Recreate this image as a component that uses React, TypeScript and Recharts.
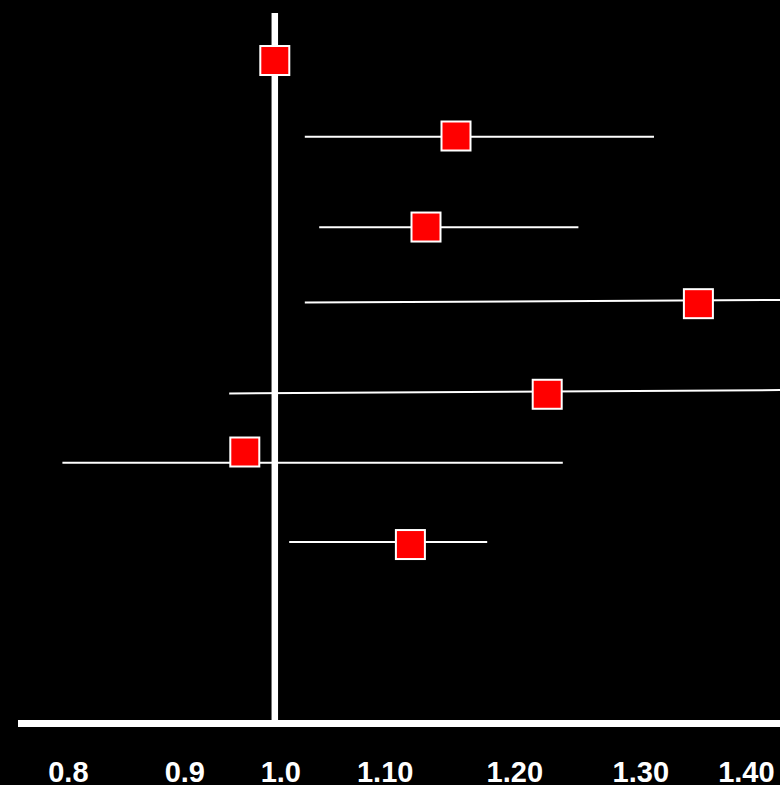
import React from 'react';
import { ScatterChart, Scatter, XAxis, YAxis, ReferenceLine } from 'recharts';

// odds ratio per study (square) and its confidence interval (whisker)
const estimates = [1.0, 1.151, 1.126, 1.353, 1.227, 0.975, 1.113];
const lowerCI = [null, 1.025, 1.037, 1.025, 0.962, 0.823, 1.012];
const upperCI = [null, 1.316, 1.253, 1.45, 1.45, 1.24, 1.177];

// vertical row position of each study (0 = top); whiskers are slightly off in the original
const rowPos = [0.535, 1.385, 2.41, 3.273, 4.293, 4.943, 5.985];
const whiskerLeftPos = [null, 1.393, 2.413, 3.261, 4.284, 5.063, 5.956];
const whiskerRightPos = [null, 1.393, 2.413, 3.229, 4.243, 5.063, 5.956];

// tick labels and where they sit on the axis
const tickLabels = ['0.8', '0.9', '1.0', '1.10', '1.20', '1.30', '1.40'];
const tickAt = [0.828, 0.925, 1.005, 1.092, 1.2, 1.305, 1.393];

const points = estimates.map((x, i) => ({ x, y: rowPos[i] }));

const whiskers = estimates
  .map((_, i) =>
    lowerCI[i] == null
      ? null
      : [
          { x: lowerCI[i], y: whiskerLeftPos[i] },
          { x: upperCI[i], y: whiskerRightPos[i] },
        ]
  )
  .filter(Boolean) as { x: number; y: number }[][];

const Square = (props: any) => {
  const { cx, cy } = props;
  if (cx == null || cy == null) return <g />;
  const s = 29;
  return <rect x={cx - s / 2} y={cy - s / 2} width={s} height={s} fill="#ff0000" stroke="#ffffff" strokeWidth={2} />;
};

const NoDot = () => <g />;

const Tick = (props: any) => {
  const { x, y, index } = props;
  return (
    <text
      x={x}
      y={y + 58.5}
      textAnchor="middle"
      fill="#ffffff"
      fontSize={29}
      fontWeight="bold"
      fontFamily="'Liberation Sans', Arial, sans-serif"
    >
      {tickLabels[index]}
    </text>
  );
};

export default function App() {
  return (
    <div style={{ position: 'absolute', left: 0, top: 0, width: 780, height: 785, background: '#000' }}>
      <ScatterChart width={780} height={785} margin={{ top: 13, right: 0, bottom: 0, left: 18 }}>
        <XAxis
          type="number"
          dataKey="x"
          domain={[0.786, 1.421]}
          allowDataOverflow
          ticks={tickAt}
          interval={0}
          height={61.5}
          tickSize={0}
          tickMargin={0}
          tickLine={false}
          axisLine={{ stroke: '#ffffff', strokeWidth: 7 }}
          tick={<Tick />}
        />
        <YAxis type="number" dataKey="y" domain={[0, 8]} reversed hide width={0} />
        {whiskers.map((w, i) => (
          <Scatter
            key={i}
            data={w}
            line={{ stroke: '#ffffff', strokeWidth: 2 }}
            shape={<NoDot />}
            isAnimationActive={false}
          />
        ))}
        <ReferenceLine x={1} stroke="#ffffff" strokeWidth={6.5} />
        <Scatter data={points} shape={<Square />} isAnimationActive={false} />
      </ScatterChart>
    </div>
  );
}
